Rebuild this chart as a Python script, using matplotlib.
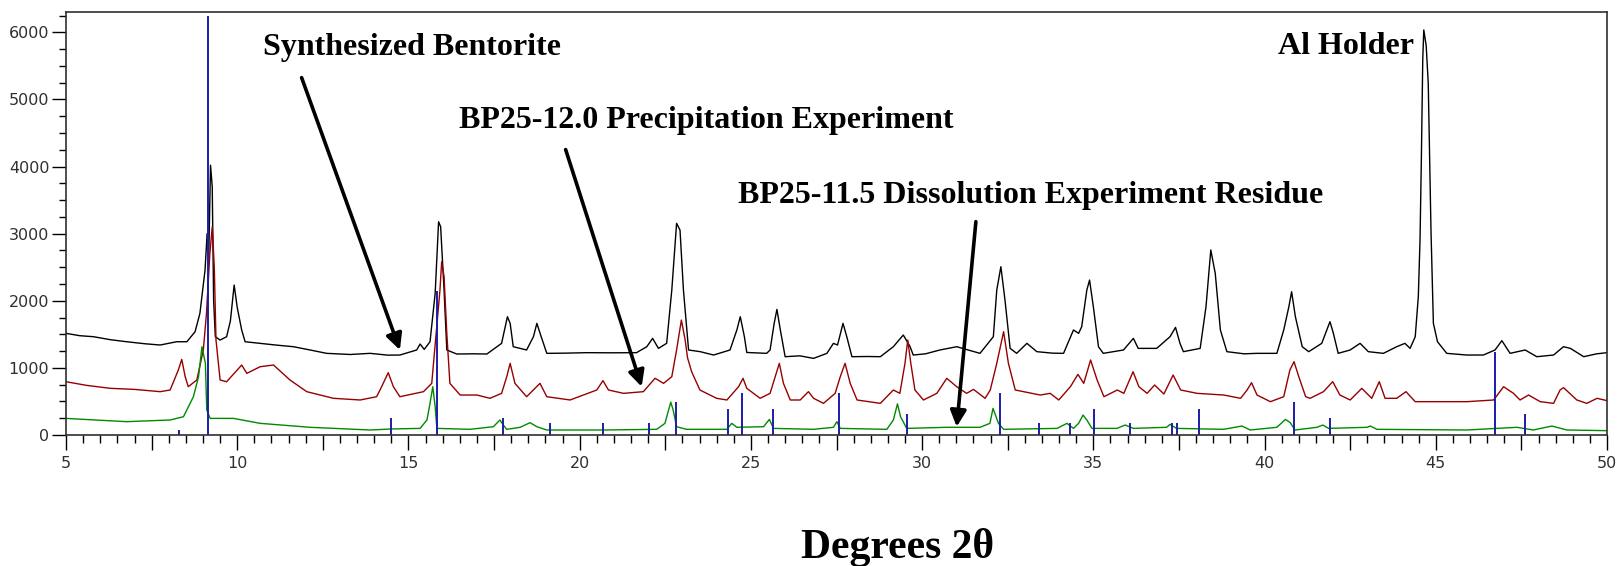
import matplotlib
matplotlib.use("Agg")
import matplotlib.pyplot as plt
from matplotlib.ticker import MultipleLocator, FuncFormatter
###############################################################################

### Synthesized Bentorite (black trace)
black_x = [5.0, 5.4, 5.8, 6.3, 6.77, 7.3, 7.75, 8.23, 8.53, 8.77, 8.91, 9.06, 9.12,
           9.17, 9.22, 9.27, 9.31, 9.36, 9.50, 9.69, 9.80, 9.91, 10.0, 10.13, 10.23,
           10.67, 11.14, 11.64, 12.1, 12.61, 13.3, 13.88, 14.4, 14.75, 15.24, 15.34,
           15.46, 15.63, 15.78, 15.88, 15.94, 16.04, 16.12, 16.41, 16.9, 17.29, 17.72,
           17.89, 17.97, 18.06, 18.45, 18.65, 18.75, 18.86, 19.04, 19.6, 20.2, 20.9,
           21.66, 21.96, 22.13, 22.30, 22.54, 22.69, 22.83, 22.93, 23.03, 23.18, 23.52,
           23.91, 24.39, 24.59, 24.69, 24.81, 24.88, 25.46, 25.56, 25.68, 25.76, 25.86,
           26.00, 26.43, 26.83, 27.22, 27.41, 27.53, 27.69, 27.80, 27.95, 28.4, 28.78,
           29.16, 29.45, 29.65, 29.74, 30.1, 30.52, 31.01, 31.4, 31.69, 32.08, 32.18,
           32.30, 32.42, 32.57, 32.76, 33.06, 33.35, 33.8, 34.13, 34.42, 34.57, 34.66,
           34.81, 34.89, 35.00, 35.15, 35.29, 35.88, 36.17, 36.31, 36.85, 37.24, 37.40,
           37.53, 37.63, 38.12, 38.29, 38.43, 38.56, 38.71, 38.90, 39.4, 39.78, 40.36,
           40.56, 40.71, 40.79, 40.90, 41.10, 41.29, 41.67, 41.82, 41.91, 42.01, 42.15,
           42.50, 42.79, 43.03, 43.47, 43.86, 44.10, 44.25, 44.40, 44.49, 44.54, 44.58,
           44.62, 44.65, 44.72, 44.78, 44.82, 44.86, 44.93, 45.05, 45.32, 45.9, 46.39,
           46.73, 46.93, 47.17, 47.61, 47.95, 48.44, 48.73, 48.93, 49.32, 49.7, 50.0]
black_y = [1515, 1480, 1465, 1420, 1390, 1360, 1341, 1390, 1390, 1540, 1813, 2458, 3000,
           2700, 4020, 3700, 2011, 1465, 1415, 1465, 1700, 2235, 1900, 1565, 1390,
           1366, 1340, 1316, 1270, 1217, 1200, 1217, 1190, 1192, 1267, 1356,
           1276, 1390, 2111, 3178, 3103, 2160, 1267, 1207, 1210, 1207, 1366,
           1763, 1664, 1316, 1267, 1465, 1664, 1490, 1217, 1220, 1227, 1225,
           1227, 1316, 1440, 1291, 1366, 2160, 3154, 3054, 2160, 1267, 1242,
           1192, 1267, 1565, 1763, 1465, 1230, 1217, 1267, 1664, 1872, 1565,
           1167, 1180, 1142, 1217, 1366, 1341, 1664, 1465, 1167, 1170, 1167,
           1316, 1490, 1316, 1192, 1210, 1267, 1316, 1260, 1217, 1465, 2160,
           2508, 2011, 1291, 1217, 1366, 1242, 1220, 1217, 1565, 1515, 1614,
           2160, 2309, 1912, 1316, 1217, 1267, 1440, 1291, 1291, 1465, 1604,
           1366, 1242, 1291, 1912, 2757, 2409, 1565, 1242, 1210, 1217, 1217,
           1565, 1912, 2135, 1763, 1316, 1242, 1366, 1565, 1689, 1515, 1217,
           1267, 1366, 1242, 1217, 1316, 1366, 1291, 1465, 2061, 2905, 4147,
           5600, 6035, 5800, 5240, 4100, 3050, 1664, 1390, 1217, 1192, 1192,
           1267, 1406, 1217, 1267, 1167, 1192, 1316, 1291, 1167, 1210, 1227]

### BP25-12.0 Precipitation Experiment (dark red trace)
red_x = [5.0, 5.6, 6.29, 7.0, 7.75, 8.04, 8.28, 8.38, 8.48, 8.57, 8.82, 9.01, 9.10,
         9.20, 9.27, 9.33, 9.38, 9.50, 9.69, 10.13, 10.28, 10.67, 11.06, 11.54, 12.03,
         12.81, 13.59, 14.07, 14.17, 14.41, 14.56, 14.75, 15.44, 15.68, 15.81, 15.92,
         15.97, 16.04, 16.12, 16.21, 16.51, 17.0, 17.38, 17.72, 17.87, 17.97, 18.11,
         18.45, 18.84, 19.04, 19.72, 20.50, 20.68, 20.84, 21.28, 21.86, 22.20, 22.45,
         22.69, 22.83, 22.97, 23.08, 23.15, 23.27, 23.51, 24.0, 24.30, 24.64, 24.77,
         24.88, 25.27, 25.56, 25.71, 25.83, 25.95, 26.15, 26.44, 26.68, 26.83, 27.12,
         27.46, 27.61, 27.75, 27.90, 28.10, 28.78, 29.16, 29.35, 29.50, 29.58, 29.67,
         29.79, 30.04, 30.43, 30.72, 31.01, 31.30, 31.50, 31.84, 31.99, 32.18, 32.38,
         32.52, 32.72, 33.45, 33.74, 33.99, 34.33, 34.55, 34.72, 34.92, 35.11, 35.31,
         35.70, 35.89, 36.16, 36.33, 36.57, 36.79, 37.06, 37.33, 37.55, 38.03, 38.81,
         39.30, 39.49, 39.62, 39.78, 40.17, 40.56, 40.74, 40.86, 41.00, 41.20, 41.33,
         41.72, 41.99, 42.20, 42.50, 42.84, 43.13, 43.35, 43.52, 43.86, 44.13, 44.40,
         45.91, 46.69, 46.98, 47.27, 47.46, 47.71, 48.05, 48.44, 48.63, 48.73, 49.12,
         49.41, 49.71, 50.0]
red_y = [794, 740, 696, 680, 646, 671, 969, 1127, 869, 720, 820, 1267, 1800,
         2700, 3104, 2500, 1415, 820, 794, 1043, 919, 1018, 1043, 820, 646,
         547, 522, 571, 671, 929, 720, 571, 646, 770, 1515, 2160,
         2583, 2360, 1515, 770, 596, 596, 547, 621, 869, 1068, 770,
         571, 770, 571, 522, 671, 810, 671, 621, 646, 845, 770,
         869, 1267, 1713, 1416, 1150, 943, 671, 547, 522, 720, 845,
         696, 547, 621, 869, 1068, 770, 522, 522, 646, 547, 472,
         621, 869, 1068, 770, 522, 472, 671, 621, 1068, 1415, 1068,
         671, 522, 621, 845, 720, 621, 680, 547, 671, 1068, 1540,
         1068, 671, 596, 621, 522, 720, 904, 770, 1118, 820, 571,
         671, 621, 943, 720, 621, 745, 611, 894, 671, 621, 596,
         547, 671, 780, 596, 497, 571, 969, 1093, 869, 571, 547,
         646, 795, 596, 522, 696, 547, 795, 547, 547, 646, 497,
         497, 522, 720, 621, 522, 596, 497, 472, 671, 706, 522,
         472, 547, 512]

### BP25-11.5 Dissolution Experiment Residue (green trace)
green_x = [5.0, 6.0, 6.77, 8.04, 8.43, 8.72, 8.87, 8.97, 9.07, 9.11, 9.21, 9.89,
           10.67, 12.13, 13.88, 14.5, 15.34, 15.54, 15.63, 15.71, 15.78, 15.83,
           16.80, 17.48, 17.67, 17.77, 17.87, 18.26, 18.55, 18.75, 19.04, 20.68,
           22.25, 22.49, 22.66, 22.73, 22.83, 23.12, 24.30, 24.44, 24.59, 25.37,
           25.54, 25.66, 26.83, 27.41, 27.51, 27.61, 28.97, 29.16, 29.28, 29.37,
           29.55, 30.72, 31.69, 31.98, 32.07, 32.23, 32.38, 33.94, 34.23, 34.42,
           34.57, 34.70, 34.81, 34.96, 35.69, 35.93, 36.17, 37.14, 37.24, 37.43,
           38.80, 39.34, 39.58, 40.36, 40.61, 40.75, 40.89, 41.53, 41.70, 41.87,
           42.99, 43.09, 43.28, 45.91, 47.37, 47.85, 48.39, 48.83, 50.0]
green_y = [248, 220, 199, 224, 273, 571, 869, 1316, 1068, 373, 248, 248,
           174, 115, 75, 90, 99, 224, 472, 720, 422, 99,
           85, 124, 224, 149, 85, 115, 184, 124, 75, 75,
           85, 174, 490, 373, 124, 85, 85, 174, 115, 124,
           233, 99, 85, 115, 199, 99, 85, 224, 465, 273,
           99, 115, 115, 174, 397, 174, 85, 99, 174, 99,
           174, 298, 224, 99, 99, 149, 99, 115, 159, 99,
           85, 134, 75, 115, 233, 184, 75, 115, 149, 99,
           115, 134, 85, 75, 115, 75, 134, 75, 65]

### Reference stick pattern (blue)
stick_x = [8.29, 9.15, 14.49, 15.83, 17.77, 19.13, 20.67, 22.03, 22.82, 24.34, 24.73,
           25.64, 27.58, 29.55, 32.26, 33.40, 34.32, 35.03, 36.08, 37.30, 37.43,
           38.10, 40.87, 41.90, 46.74, 47.62]
stick_y = [80, 6250, 248, 2150, 248, 184, 184, 184, 497, 382, 631,
           382, 631, 313, 631, 184, 184, 382, 184, 184, 184,
           382, 497, 248, 1241, 313]

###############################################################################
fig = plt.figure(figsize=(16.18, 5.66), dpi=100)
ax = fig.add_axes([0.0408, 0.2314, 0.9524, 0.7479])

ax.plot(black_x, black_y, color="black", lw=1.0)
ax.plot(red_x, red_y, color="#960000", lw=1.0)
ax.plot(green_x, green_y, color="#008a00", lw=1.0)
ax.vlines(stick_x, 0, stick_y, color="#1c1ca8", lw=1.4)

ax.set_xlim(5, 50)
ax.set_ylim(0, 6307)

### Ticks: long ticks every 2.5, labels only every 5
ax.xaxis.set_major_locator(MultipleLocator(2.5))
ax.xaxis.set_major_formatter(FuncFormatter(lambda v, p: "%d" % v if v % 5 == 0 else ""))
ax.xaxis.set_minor_locator(MultipleLocator(0.5))
ax.yaxis.set_major_locator(MultipleLocator(1000))
ax.yaxis.set_minor_locator(MultipleLocator(250))
ax.tick_params(axis="x", which="major", length=11, width=1, pad=4,
               labelsize=11.5, labelcolor="#303030")
ax.tick_params(axis="x", which="minor", length=6, width=1)
ax.tick_params(axis="y", which="major", length=10, width=1, pad=2,
               labelsize=11.5, labelcolor="#303030")
ax.tick_params(axis="y", which="minor", length=5, width=1)
for s in ax.spines.values():
    s.set_color("#303030")
    s.set_linewidth(1.2)

### Annotations
tfont = dict(family="Liberation Serif", weight="bold", size=23, color="black")
arrow = dict(arrowstyle="-|>", color="black", lw=2.6, mutation_scale=24,
             shrinkA=0, shrinkB=0)

ax.text(10.75, 5767, "Synthesized Bentorite", ha="left", va="center", **tfont)
ax.annotate("", xy=(14.75, 1267), xytext=(11.88, 5325), arrowprops=arrow)

ax.text(16.48, 4680, "BP25-12.0 Precipitation Experiment", ha="left", va="center", **tfont)
ax.annotate("", xy=(21.81, 720), xytext=(19.59, 4253), arrowprops=arrow)

ax.text(24.62, 3562, "BP25-11.5 Dissolution Experiment Residue", ha="left", va="center", **tfont)
ax.annotate("", xy=(31.01, 124), xytext=(31.57, 3179), arrowprops=arrow)

ax.text(40.39, 5782, "Al Holder", ha="left", va="center", **tfont)

fig.text(0.555, 0.014, "Degrees 2\u03b8", ha="center", va="baseline",
         family="Liberation Serif", weight="bold", size=30)

fig.savefig("out.png", dpi=100)
